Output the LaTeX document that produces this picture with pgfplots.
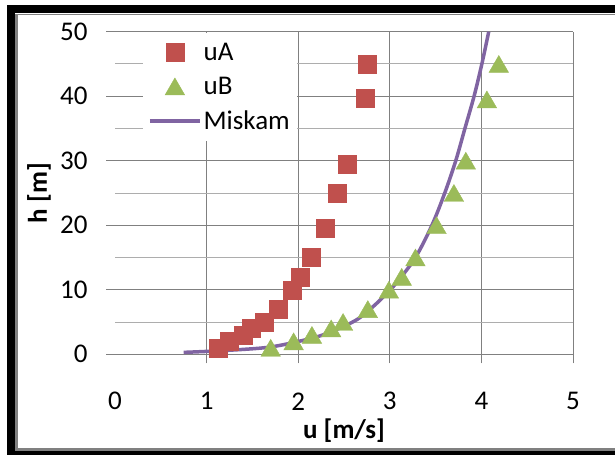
\documentclass[border=0pt]{standalone}
\usepackage{pgfplots}
\pgfplotsset{compat=1.18}
\usepackage{fontspec}
\setmainfont{Carlito}
\definecolor{cA}{HTML}{C0504D}
\definecolor{cB}{HTML}{9BBB59}
\definecolor{cM}{HTML}{8064A2}
\begin{document}
\begin{tikzpicture}[x=1pt,y=1pt]
\path[use as bounding box] (0,0) rectangle (615,455);
% frame
\fill[black] (7,0) rectangle (15,450);
\fill[black] (7,442) rectangle (615,450);
\fill[black] (7,0) rectangle (615,4);
\fill[black!50] (15,4) rectangle (17.5,441);
\fill[black!50] (15,439.5) rectangle (615,441);
\fill[black!50] (15,4) rectangle (615,7);
\begin{axis}[
  at={(115pt,100.7pt)}, anchor=south west, scale only axis,
  width=458pt, height=322.6pt,
  xmin=0, xmax=5, ymin=0, ymax=50,
  axis line style={draw=none},
  xtick={1,2,3,4,5}, ytick={0,10,20,30,40,50}, minor ytick={5,15,25,35,45},
  extra x ticks={0}, extra x tick style={grid=none, tick style={draw=none}},
  tick pos=left, tick align=outside, major tick length=9pt, minor tick length=0pt,
  grid=both,
  major grid style={draw=black!50, line width=1pt},
  minor grid style={draw=black!32, line width=1pt},
  tick style={draw=black!50, line width=1pt},
  ticklabel style={font=\fontsize{27}{31}\selectfont},
  /pgf/number format/assume math mode=true,
  yticklabel style={anchor=east, xshift=-15pt},
  xticklabel style={anchor=center, yshift=-38pt},
  legend style={at={(rel axis cs:0.061,0.996)}, anchor=north west, fill=white, draw=none,
    inner xsep=5pt, inner ysep=8pt, font=\fontsize{27}{31}\selectfont, row sep=11pt,
    /tikz/every even column/.append style={column sep=3pt}},
  legend cell align=left,
  legend image code/.code={\draw[mark repeat=2,mark phase=2,#1] plot coordinates {(0pt,0pt) (25pt,0pt) (50pt,0pt)};},
]
\addplot[only marks, mark=square*, mark size=9pt, color=cA, mark options={fill=cA, draw=cA}] coordinates {
(1.13,1) (1.25,2) (1.40,3) (1.49,4) (1.63,5) (1.78,7) (1.93,10) (2.02,12) (2.14,15)
(2.29,19.6) (2.43,25) (2.54,29.5) (2.73,39.7) (2.75,45)
};
\addlegendentry{uA}
\addplot[only marks, mark=triangle*, mark size=11.3pt, color=cB, mark options={fill=cB, draw=cB, yshift=-2.8pt}] coordinates {
(1.70,1) (1.95,2) (2.15,3) (2.36,4) (2.49,5) (2.76,7) (2.99,10) (3.13,12) (3.28,15)
(3.51,20) (3.70,25) (3.83,30) (4.06,39.5) (4.19,45)
};
\addlegendentry{uB}
\addplot[smooth, color=cM, line width=3.5pt, mark=none] coordinates {
(0.75,0.3) (1.15,0.55) (1.62,1.0) (1.91,1.7) (2.27,3.0) (2.62,5.2) (2.81,7.3) (2.95,9.2)
(3.08,11.2) (3.28,15) (3.46,20) (3.60,25) (3.72,30) (3.82,35) (3.92,40) (4.005,45) (4.08,50)
};
\addlegendentry{Miskam}
\end{axis}
\node[font=\fontsize{27}{31}\selectfont\bfseries] at (344,24) {u [m/s]};
\node[rotate=90, font=\fontsize{27}{31}\selectfont\bfseries] at (39,262) {h [m]};
\end{tikzpicture}
\end{document}
